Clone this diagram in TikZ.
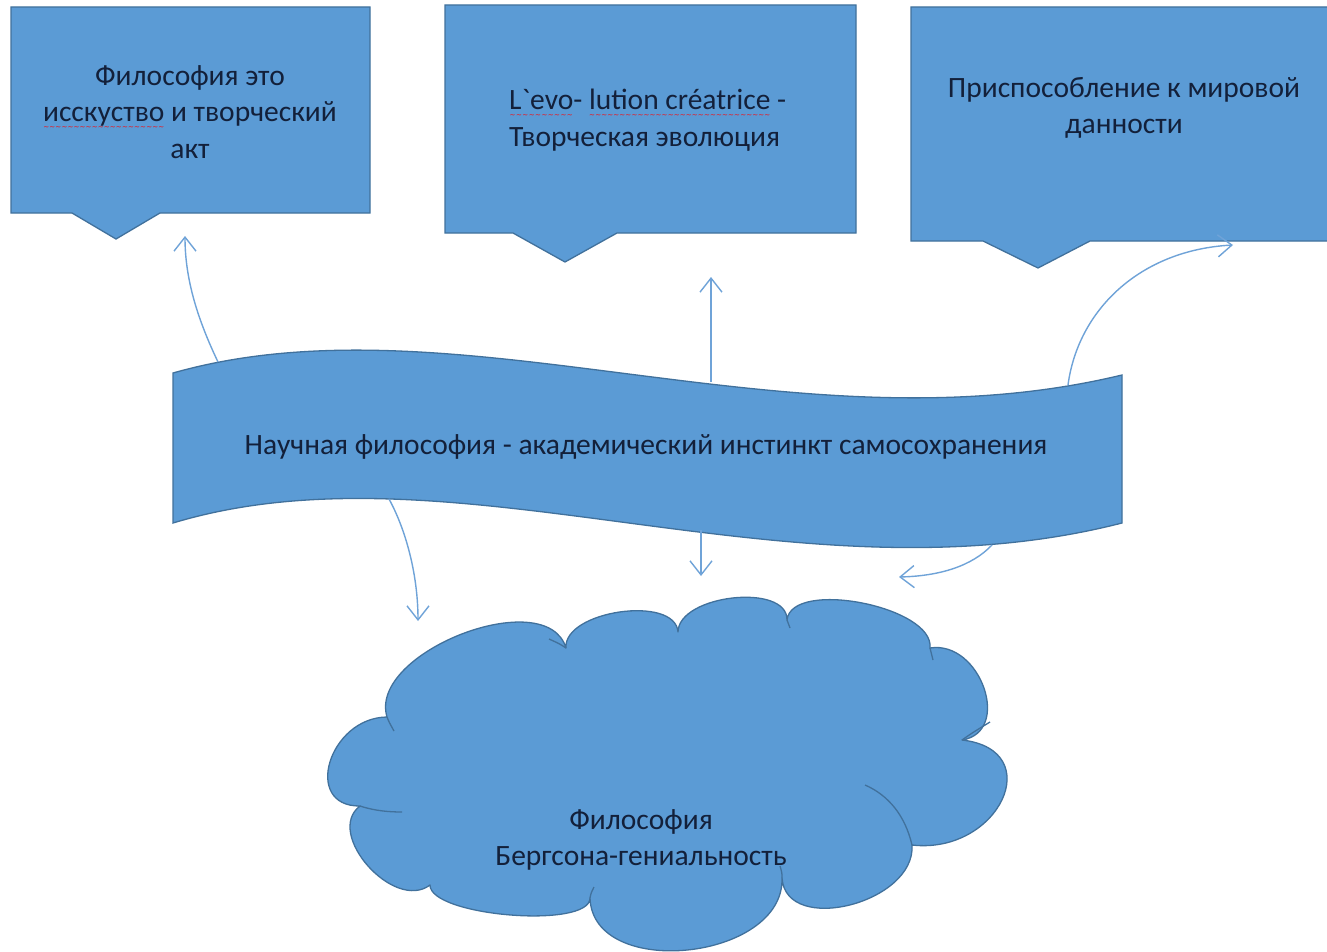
\documentclass[tikz,border=0pt]{standalone}
\usepackage{fontspec}
\setmainfont{Carlito}[Ligatures=TeXOff]
\newfontfamily\sqfont{DejaVu Sans}
\usetikzlibrary{arrows.meta,calc}
\definecolor{fillb}{HTML}{5B9BD5}
\definecolor{edgeb}{HTML}{41719C}
\definecolor{arrb}{HTML}{6FA3D8}
\definecolor{txt}{HTML}{13203A}
\newsavebox\sqbox
\newcommand\redsq[1]{\sbox\sqbox{#1}\rlap{\raisebox{-7.5pt}[0pt][0pt]{\color{red}\sqfont\fontsize{7}{7}\selectfont\xleaders\hbox{\char"223C}\hskip\wd\sqbox}}\usebox\sqbox}
\def\bump(#1)(#2)(#3){.. controls ($0.3333*(#1)+1.3333*(#2)-0.6667*(#3)$) and ($0.3333*(#3)+1.3333*(#2)-0.6667*(#1)$) .. (#3)}
\tikzset{
  shapest/.style={fill=fillb, draw=edgeb, line width=1.3pt, line join=miter},
  innerst/.style={draw=edgeb, line width=1.3pt},
  lbl/.style={text=txt, font=\fontsize{29.5}{36.5}\selectfont, inner sep=0pt},
  conn/.style={draw=arrb, line width=1.4pt, -{Straight Barb[length=14pt,width=22pt,line width=1.4pt]}}
}
\begin{document}
\begin{tikzpicture}[x=1pt,y=-1pt]
\useasboundingbox (0,0) rectangle (1327,952);
\fill[white] (0,0) rectangle (1327,952);

% callout boxes
\draw[shapest] (11,7) -- (370,7) -- (370,213) -- (160,213) -- (116,239) -- (72,213) -- (11,213) -- cycle;
\draw[shapest] (445,5) -- (856,5) -- (856,233) -- (617,233) -- (565,262) -- (513,233) -- (445,233) -- cycle;
\draw[shapest] (911,7) -- (1328,7) -- (1328,241) -- (1090,241) -- (1038,268) -- (983,241) -- (911,241) -- cycle;

\node[lbl, align=center] (t1) at (190,112) {Философия это\\\redsq{исскуство} и творческий\\акт};
\node[lbl, align=left, anchor=west] (t2) at (509,120) {\redsq{L`evo}- \redsq{lution créatrice} -\\Творческая эволюция};
\node[lbl, align=center] (t3) at (1124,108) {Приспособление к мировой\\данности};

% wave banner
\draw[shapest] (173,373) .. controls (455,293) and (790,455) .. (1122,375) -- (1122,523)
  .. controls (790,608) and (455,438) .. (173,523) -- cycle;
\node[lbl] (t4) at (646,447) {Научная философия - академический инстинкт самосохранения};

% cloud
\coordinate (k1) at (387,717);
\coordinate (k2) at (566,648);
\coordinate (k3) at (678,632);
\coordinate (k4) at (787,620);
\coordinate (k5) at (930,648);
\coordinate (k6) at (962,740);
\coordinate (k7) at (912,845);
\coordinate (k8) at (782,878);
\coordinate (k9) at (590,898);
\coordinate (k10) at (430,885);
\coordinate (k11) at (360,806);
\coordinate (p1) at (462,634);
\coordinate (p2) at (620,612);
\coordinate (p3) at (733,598);
\coordinate (p4) at (862,603);
\coordinate (p5) at (984,688);
\coordinate (p6) at (1002,800);
\coordinate (p7) at (850,905);
\coordinate (p8) at (688,950);
\coordinate (p9) at (510,915);
\coordinate (p10) at (368,866);
\coordinate (p11) at (330,762);
\draw[shapest, line join=round] (k1) \bump(k1)(p1)(k2) \bump(k2)(p2)(k3) \bump(k3)(p3)(k4)
  \bump(k4)(p4)(k5) \bump(k5)(p5)(k6) \bump(k6)(p6)(k7) \bump(k7)(p7)(k8)
  \bump(k8)(p8)(k9) \bump(k9)(p9)(k10) \bump(k10)(p10)(k11) \bump(k11)(p11)(k1) -- cycle;
\draw[innerst] (k1) .. controls (389,722) .. (394,731);
\draw[innerst] (k11) .. controls (375,811) and (390,812) .. (402,812);
\draw[innerst] (k2) .. controls (560,644) .. (549,639);
\draw[innerst] (k6) .. controls (972,733) .. (990,722);
\draw[innerst] (k7) .. controls (905,815) and (888,795) .. (865,785);
\draw[innerst] (k8) .. controls (782,873) .. (780,866);
\draw[innerst] (k9) .. controls (591,893) .. (594,887);
\draw[innerst] (k4) .. controls (788,624) .. (790,628);
\draw[innerst] (k5) .. controls (931,654) .. (933,660);
\node[lbl, align=center] (t5) at (641,840) {Философия\\Бергсона-гениальность};

% connectors
\coordinate (a1s) at (218,362);
\coordinate (a1e) at (185,236);
\coordinate (a2s) at (711,382);
\coordinate (a2e) at (711,277);
\coordinate (a3s) at (1068,385);
\coordinate (a3e) at (1233,245);
\coordinate (a4s) at (389,499);
\coordinate (a4e) at (418,621);
\coordinate (a5s) at (701,530);
\coordinate (a5e) at (701,576);
\coordinate (a6s) at (992,545);
\coordinate (a6e) at (899,577);
\draw[conn] (a1s) .. controls (198,320) and (185,280) .. (a1e);
\draw[conn] (a2s) -- (a2e);
\draw[conn] (a3s) .. controls (1078,310) and (1140,250) .. (a3e);
\draw[conn] (a4s) .. controls (406,530) and (418,575) .. (a4e);
\draw[conn] (a5s) -- (a5e);
\draw[conn] (a6s) .. controls (972,566) and (940,576) .. (a6e);
\end{tikzpicture}
\end{document}
